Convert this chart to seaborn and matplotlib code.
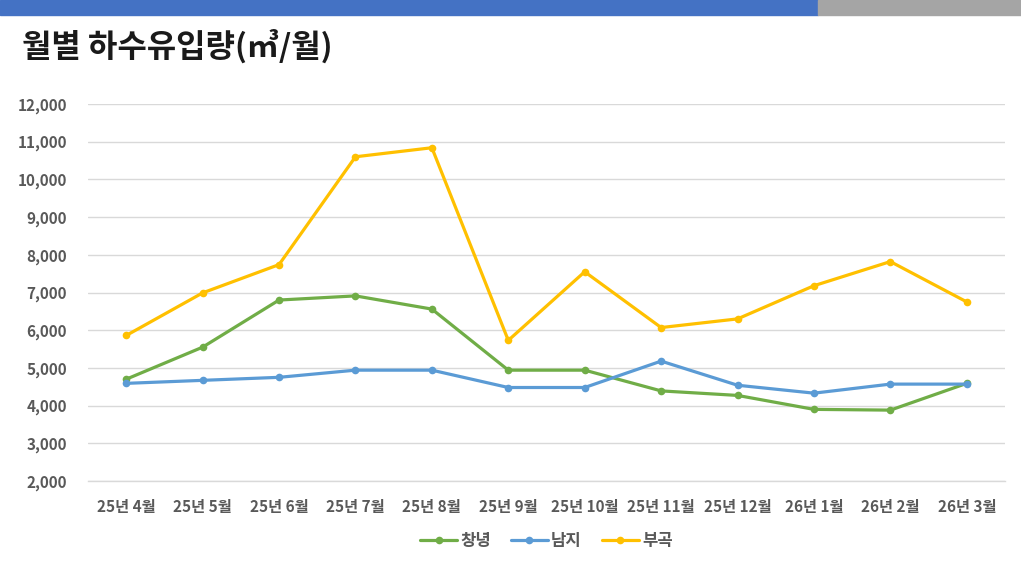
import pandas as pd
import matplotlib.pyplot as plt
import seaborn as sns
from matplotlib.patches import Rectangle

# 데이터
months = ['25년 4월', '25년 5월', '25년 6월', '25년 7월', '25년 8월', '25년 9월',
          '25년 10월', '25년 11월', '25년 12월', '26년 1월', '26년 2월', '26년 3월']
changnyeong = [4700, 5550, 6800, 6910, 6560, 4940, 4940, 4390, 4270, 3900, 3880, 4590]
namji = [4590, 4670, 4750, 4940, 4940, 4480, 4480, 5180, 4540, 4330, 4570, 4570]
bugok = [5860, 6990, 7740, 10600, 10840, 5730, 7550, 6070, 6300, 7180, 7820, 6750]
sites = ['창녕', '남지', '부곡']
colors = ['#70AD47', '#5B9BD5', '#FFC000']
title = '월별 하수유입량(㎥/월)'

df = pd.DataFrame({
    '월': months * 3,
    '유입량': changnyeong + namji + bugok,
    '처리장': [s for s in sites for _ in months],
})

sns.set_theme(style='white')
plt.rcParams['font.family'] = ['Noto Sans CJK KR', 'DejaVu Sans']

fig = plt.figure(figsize=(10.21, 5.65), dpi=100)

# 상단 띠
fig.patches.append(Rectangle((0, 1 - 15 / 565), 818 / 1021, 15 / 565,
                             transform=fig.transFigure, color='#4472C4', zorder=0))
fig.patches.append(Rectangle((818 / 1021, 1 - 15 / 565), 1 - 818 / 1021, 15 / 565,
                             transform=fig.transFigure, color='#A5A5A5', zorder=0))
fig.text(22 / 1021, 1 - 47 / 565, title, fontsize=23, fontweight='bold',
         color='#1a1a1a', va='center', ha='left')

ax = fig.add_axes([88 / 1021, 84 / 565, (1005 - 88) / 1021, (481 - 104) / 565])
sns.lineplot(data=df, x='월', y='유입량', hue='처리장', palette=colors, sort=False,
             marker='o', markersize=5.5, markeredgewidth=0, linewidth=2.3, ax=ax)

ax.set_xlim(-0.5, len(months) - 0.5)
ax.set_ylim(2000, 12000)
ax.set_yticks(range(2000, 12001, 1000))
ax.set_yticklabels([f'{v:,}' for v in range(2000, 12001, 1000)])
ax.set_xticks(range(len(months)))
ax.set_xticks([i - 0.5 for i in range(len(months) + 1)], minor=True)
ax.tick_params(axis='x', which='major', length=0, pad=13)
ax.tick_params(axis='x', which='minor', length=5, color='#D9D9D9', width=1)
ax.tick_params(axis='y', length=0, pad=15)
for lab in ax.get_xticklabels() + ax.get_yticklabels():
    lab.set_fontsize(11)
    lab.set_fontweight('bold')
    lab.set_color('#595959')

ax.grid(axis='y', color='#D9D9D9', linewidth=1)
ax.set_axisbelow(True)
for s in ['top', 'right', 'left']:
    ax.spines[s].set_visible(False)
ax.spines['bottom'].set_color('#D9D9D9')
ax.spines['bottom'].set_linewidth(1)
ax.set_xlabel('')
ax.set_ylabel('')

leg = ax.legend(loc='center', bbox_to_anchor=(0.5, -0.16), ncol=3, frameon=False,
                fontsize=12, handlelength=2.2, handletextpad=0.2, columnspacing=1.2)
for t in leg.get_texts():
    t.set_color('#595959')
    t.set_fontweight('bold')

fig.savefig('out.png', dpi=100)
